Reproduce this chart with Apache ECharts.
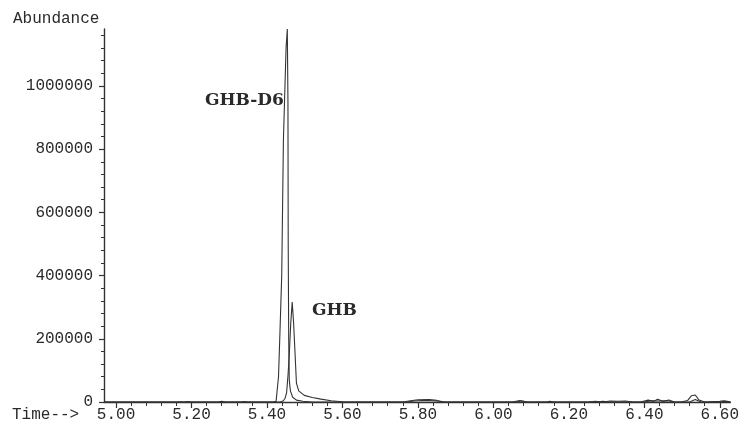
<!DOCTYPE html>
<html><head><meta charset="utf-8">
<script src="https://cdn.jsdelivr.net/npm/echarts@6/dist/echarts.min.js"></script>
<style>html,body{margin:0;padding:0;background:#fff}#c{width:742px;height:428px}</style>
</head><body><div id="c"></div>
<script>
// Tick values
const xMajorTicks = [5.0, 5.2, 5.4, 5.6, 5.8, 6.0, 6.2, 6.4, 6.6];
const yMajorTicks = [0, 200000, 400000, 600000, 800000, 1000000];

// GHB-D6 trace (time in min, abundance)
const tD6 = [4.968, 5.10, 5.18, 5.19, 5.20, 5.27, 5.28, 5.29, 5.33, 5.34, 5.35, 5.415,
  5.420, 5.424, 5.426, 5.4305, 5.4345, 5.439, 5.4435, 5.4505, 5.4538, 5.4555, 5.4562, 5.4575, 5.459, 5.462, 5.468, 5.478, 5.495, 5.52,
  5.60, 5.70, 5.76, 5.78, 5.80, 5.83, 5.85, 5.87, 6.00, 6.05, 6.07, 6.09, 6.14, 6.15, 6.16, 6.25, 6.27, 6.29, 6.31, 6.33, 6.35, 6.37,
  6.39, 6.41, 6.425, 6.435, 6.45, 6.465, 6.48, 6.50, 6.515, 6.525, 6.535, 6.545, 6.56, 6.60, 6.61, 6.628];
const vD6 = [0, 0, 0, 1500, 0, 0, 2000, 0, 0, 1500, 0, 0,
  0, 2000, 5000, 80000, 227000, 400000, 829000, 1120000, 1180000, 950000, 500000, 200000, 70000, 35000, 15000, 6000, 2500, 0,
  0, 0, 0, 4000, 7000, 8000, 5000, 0, 0, 0, 5000, 0, 0, 2000, 0, 0, 2000, 0, 3000, 2500, 3000, 0,
  0, 6000, 2000, 9000, 2000, 6000, 0, 1000, 5000, 20000, 22000, 6000, 0, 2000, 4000, 1000];

// GHB trace
const tGHB = [4.968, 5.16, 5.17, 5.18, 5.435,
  5.4434, 5.448, 5.452, 5.456, 5.459, 5.463, 5.4668, 5.4705, 5.4735, 5.478, 5.484, 5.4988, 5.52, 5.543, 5.57, 5.60, 5.64,
  5.77, 5.79, 5.82, 5.85, 5.87, 6.06, 6.075, 6.09, 6.27, 6.29, 6.31, 6.40, 6.42, 6.44, 6.46, 6.48, 6.52, 6.535, 6.55, 6.60, 6.615, 6.628];
const vGHB = [0, 0, 1000, 0, 0,
  4000, 12000, 30000, 90000, 150000, 250000, 316000, 250000, 175000, 60000, 35000, 21000, 14000, 9000, 4000, 1000, 0,
  0, 3000, 5000, 3000, 0, 0, 3000, 0, 0, 2000, 0, 0, 4000, 3000, 4000, 0, 0, 8000, 0, 0, 2000, 0];

const xMinorTicks = [];
xMajorTicks.forEach(m => [0.04, 0.08, 0.12, 0.16].forEach(d => xMinorTicks.push(+(m + d).toFixed(2))));
const yMinorTicks = [];
yMajorTicks.forEach(m => [40000, 80000, 120000, 160000].forEach(d => yMinorTicks.push(m + d)));

const XMIN = 4.968, XMAX = 6.628, YMAX = 1180000;
const ink = '#333';
const txt = '#2a2a2a';
const mono = 'Liberation Mono';

const chart = echarts.init(document.getElementById('c'), null, {renderer: 'canvas'});
chart.setOption({
  animation: false,
  backgroundColor: '#fff',
  grid: {left: 104, right: 0, top: 29, bottom: 26},
  xAxis: [{
    type: 'value', min: XMIN, max: XMAX, position: 'bottom',
    axisLine: {show: true, onZero: false, lineStyle: {color: ink, width: 1.4}},
    axisTick: {show: true, customValues: xMajorTicks, length: 6, lineStyle: {color: ink, width: 1.2}},
    axisLabel: {customValues: xMajorTicks, formatter: v => v.toFixed(2), margin: 5,
      fontFamily: mono, fontSize: 16, color: txt},
    splitLine: {show: false}
  }, {
    type: 'value', min: XMIN, max: XMAX, position: 'bottom',
    axisLine: {show: false},
    axisTick: {show: true, customValues: xMinorTicks, length: 4, lineStyle: {color: ink, width: 1}},
    axisLabel: {show: false}, splitLine: {show: false}
  }],
  yAxis: [{
    type: 'value', min: 0, max: YMAX, position: 'left',
    axisLine: {show: true, onZero: false, lineStyle: {color: ink, width: 1.4}},
    axisTick: {show: true, customValues: yMajorTicks, length: 5, lineStyle: {color: ink, width: 1.2}},
    axisLabel: {customValues: yMajorTicks, formatter: v => String(v), margin: 11,
      fontFamily: mono, fontSize: 16, color: txt},
    splitLine: {show: false}
  }, {
    type: 'value', min: 0, max: YMAX, position: 'left',
    axisLine: {show: false},
    axisTick: {show: true, customValues: yMinorTicks, length: 3, lineStyle: {color: ink, width: 1}},
    axisLabel: {show: false}, splitLine: {show: false}
  }],
  series: [{
    name: 'GHB-D6', type: 'line', showSymbol: false, xAxisIndex: 0, yAxisIndex: 0,
    data: tD6.map((t, i) => [t, vD6[i]]),
    lineStyle: {color: ink, width: 1.1}
  }, {
    name: 'GHB', type: 'line', showSymbol: false, xAxisIndex: 0, yAxisIndex: 0,
    data: tGHB.map((t, i) => [t, vGHB[i]]),
    lineStyle: {color: ink, width: 1.1}
  }],
  graphic: [
    {type: 'text', left: 13, top: 11, style: {text: 'Abundance', font: '16px "Liberation Mono"', fill: txt}},
    {type: 'text', left: 12, top: 407, style: {text: 'Time-->', font: '16px "Liberation Mono"', fill: txt}},
    {type: 'text', left: 205, top: 92, style: {text: 'GHB-D6', font: 'bold 17px "DejaVu Serif"', fill: txt}},
    {type: 'text', left: 312, top: 302, style: {text: 'GHB', font: 'bold 17px "DejaVu Serif"', fill: txt}}
  ]
});
</script></body></html>
